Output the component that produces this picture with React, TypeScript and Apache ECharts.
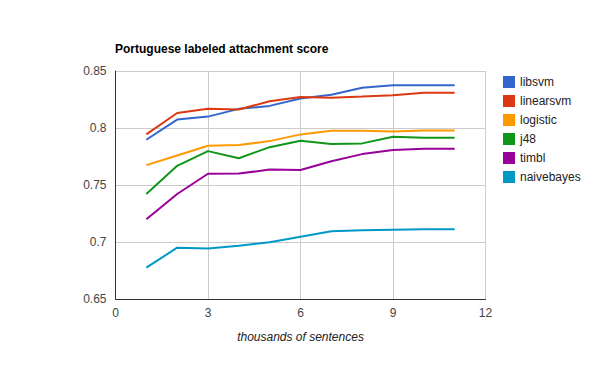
import React, { useEffect, useRef } from "react";
import * as echarts from "echarts";

const xValues = [1, 2, 3, 4, 5, 6, 7, 8, 9, 10, 11];
const seriesNames = ["libsvm", "linearsvm", "logistic", "j48", "timbl", "naivebayes"];
const colors = ["#3366cc", "#dc3912", "#ff9900", "#109618", "#990099", "#0099c6"];
const libsvm = [0.7897, 0.8074, 0.810, 0.8168, 0.8194, 0.8259, 0.8291, 0.8353, 0.8376, 0.8374, 0.8374];
const linearsvm = [0.7944, 0.8132, 0.8168, 0.8162, 0.8235, 0.8271, 0.8265, 0.8276, 0.8288, 0.8309, 0.8309];
const logistic = [0.7674, 0.7759, 0.7844, 0.785, 0.7885, 0.7944, 0.7976, 0.7976, 0.797, 0.7979, 0.7979];
const j48 = [0.7421, 0.7668, 0.7797, 0.7735, 0.7832, 0.7888, 0.7859, 0.7865, 0.7924, 0.7915, 0.7915];
const timbl = [0.7199, 0.7421, 0.7599, 0.760, 0.7635, 0.7632, 0.7709, 0.7771, 0.7806, 0.7818, 0.7818];
const naivebayes = [0.6775, 0.695, 0.6944, 0.6968, 0.6997, 0.7047, 0.7094, 0.7102, 0.7108, 0.7111, 0.7111];
const allData = [libsvm, linearsvm, logistic, j48, timbl, naivebayes];

export default function App() {
  const ref = useRef<HTMLDivElement>(null);
  useEffect(() => {
    if (!ref.current) return;
    const chart = echarts.init(ref.current, undefined, { renderer: "svg" });
    const font = "Arial, 'Liberation Sans', sans-serif";
    chart.setOption({
      animation: false,
      color: colors,
      title: {
        text: "Portuguese labeled attachment score",
        left: 110,
        top: 38,
        textStyle: { fontFamily: font, fontSize: 12, fontWeight: "bold", color: "#000" },
      },
      legend: {
        orient: "vertical",
        left: 498,
        top: 71,
        itemWidth: 12,
        itemHeight: 12,
        itemGap: 7,
        icon: "rect",
        textStyle: { fontFamily: font, fontSize: 12, color: "#222" },
        data: seriesNames,
      },
      grid: { left: 115.5, right: 114.5, top: 71, bottom: 72, containLabel: false },
      xAxis: {
        type: "value",
        min: 0,
        max: 12,
        interval: 3,
        name: "thousands of sentences",
        nameLocation: "middle",
        nameGap: 32,
        nameTextStyle: { fontFamily: font, fontSize: 12, fontStyle: "italic", color: "#222" },
        axisLine: { show: true, onZero: false, lineStyle: { color: "#333", width: 1 } },
        axisTick: { show: false },
        axisLabel: { fontFamily: font, fontSize: 12, color: "#444", margin: 8 },
        splitLine: { show: true, lineStyle: { color: "#cccccc", width: 1 } },
      },
      yAxis: {
        type: "value",
        min: 0.65,
        max: 0.85,
        interval: 0.05,
        axisLine: { show: true, lineStyle: { color: "#333", width: 1 } },
        axisTick: { show: false },
        axisLabel: {
          fontFamily: font,
          fontSize: 12,
          color: "#444",
          margin: 9,
          formatter: (v: number) => String(parseFloat(v.toFixed(2))),
        },
        splitLine: { show: true, lineStyle: { color: "#cccccc", width: 1 } },
      },
      series: seriesNames.map((name, i) => ({
        name,
        type: "line",
        data: xValues.map((x, j) => [x, allData[i][j]]),
        showSymbol: false,
        symbol: "none",
        lineStyle: { width: 2 },
      })),
    });
    return () => chart.dispose();
  }, []);
  return <div ref={ref} style={{ width: 600, height: 371, margin: -8 }} />;
}
